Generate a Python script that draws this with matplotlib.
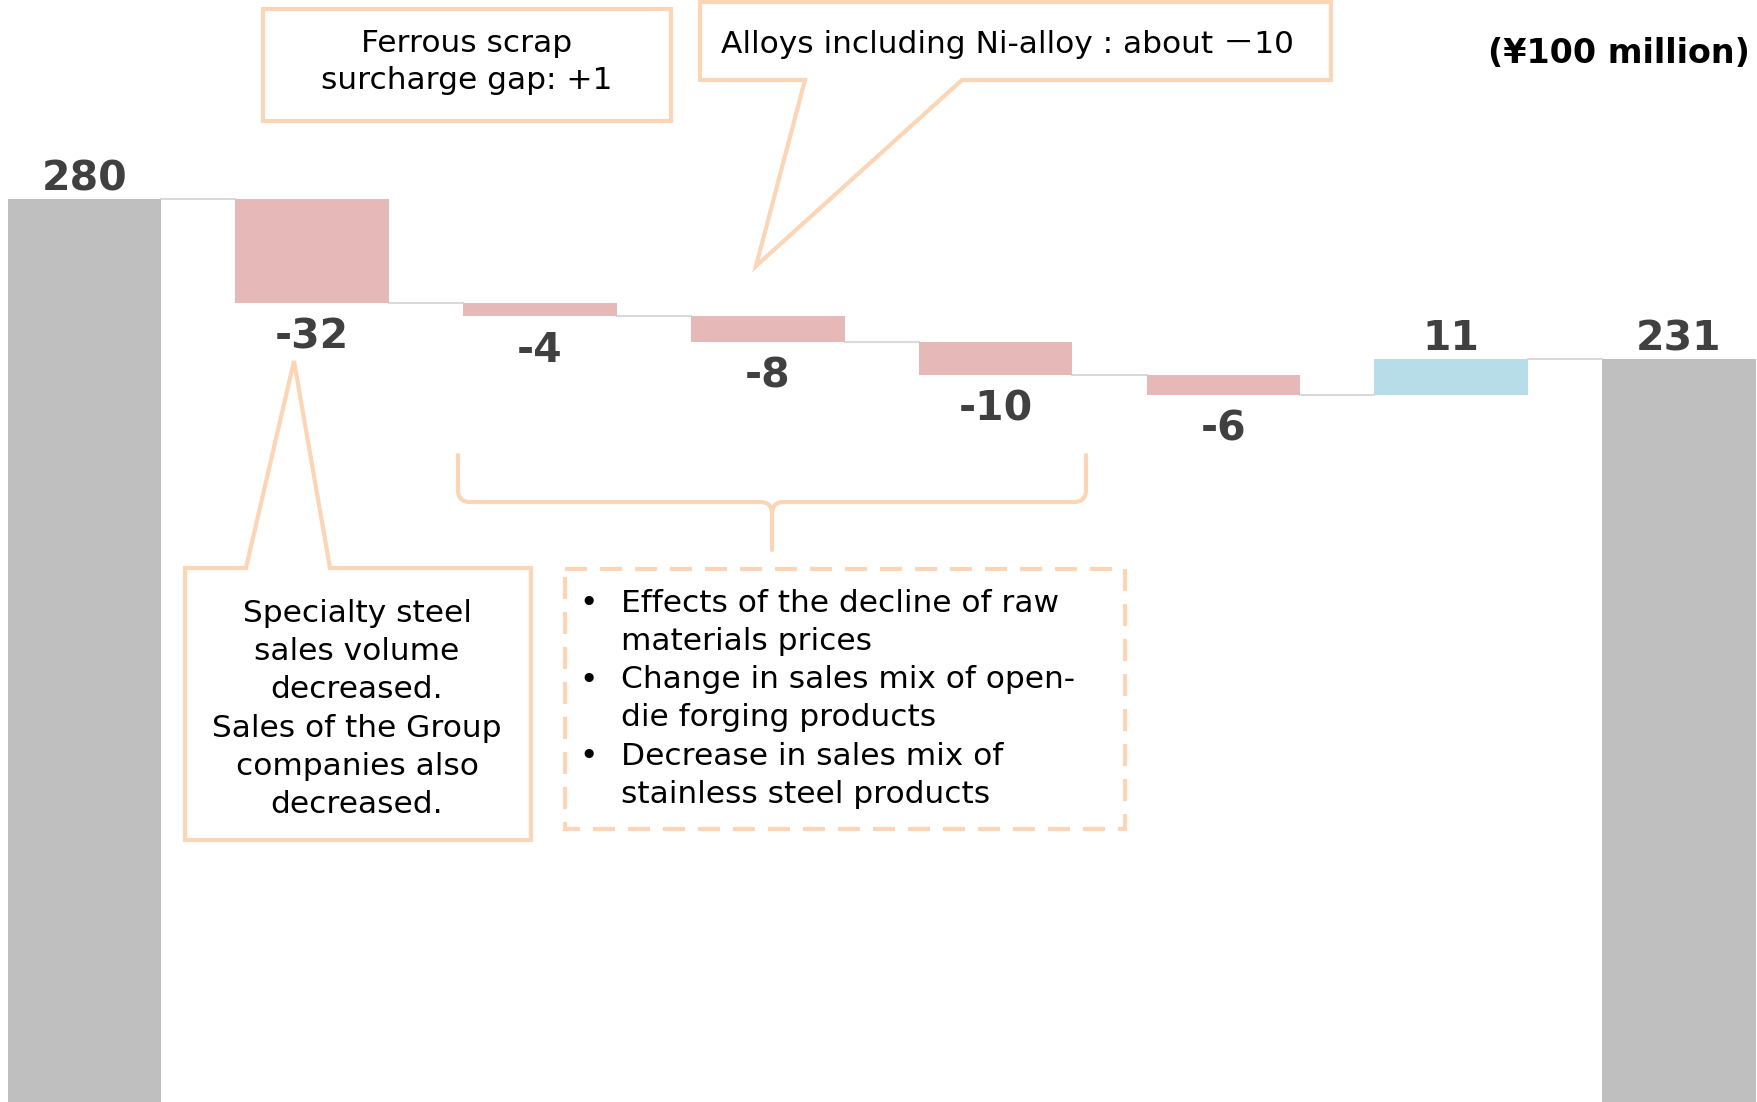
import matplotlib
matplotlib.use("Agg")
import matplotlib.pyplot as plt
from matplotlib.patches import Rectangle, Polygon, PathPatch
from matplotlib.path import Path
from matplotlib.transforms import Affine2D

# waterfall values (¥100 million)
start_value = 280
changes = [-32, -4, -8, -10, -6, 11]
end_value = 231

GREY = "#bfbfbf"
PINK = "#e6b8b7"
BLUE = "#b7dee8"
PEACH = "#fbd5b5"
LABEL = "#404040"

W, H = 1758, 1102
fig = plt.figure(figsize=(W / 100, H / 100), dpi=100)
ax = fig.add_axes([0, 0, 1, 1])
ax.axis("off")

# build the waterfall
bottoms, heights, colors, values = [0], [start_value], [GREY], [start_value]
levels = [start_value]
level = start_value
for c in changes:
    if c < 0:
        bottoms.append(level + c)
        heights.append(-c)
        colors.append(PINK)
    else:
        bottoms.append(level)
        heights.append(c)
        colors.append(BLUE)
    level += c
    levels.append(level)
    values.append(c)
bottoms.append(0)
heights.append(end_value)
colors.append(GREY)
values.append(end_value)

bw = 0.675
x = list(range(len(heights)))
ax.bar(x, heights, bottom=bottoms, width=bw, color=colors, zorder=2)

# connectors
for i, lv in enumerate(levels):
    ax.plot([i + bw / 2, i + 1 - bw / 2], [lv, lv], color="#d9d9d9", lw=1.5, zorder=1)

# value labels
for i, v in enumerate(values):
    if v < 0:
        ax.annotate(str(v), (i, bottoms[i]), xytext=(0, -10.5), textcoords="offset points",
                    ha="center", va="top", fontsize=29.5, fontweight="bold", color=LABEL)
    else:
        ax.annotate(str(v), (i, bottoms[i] + heights[i]), xytext=(0, 6), textcoords="offset points",
                    ha="center", va="baseline", fontsize=29.5, fontweight="bold", color=LABEL)

ax.set_xlim(-0.371, 7.347)
ax.set_ylim(3, 341)

# pixel coordinates (origin top-left) for the annotations
px = Affine2D().scale(1 / W, -1 / H).translate(0, 1) + fig.transFigure


def txt(xp, yp, s, size=22.5, ha="center", **kw):
    fig.text(xp, yp, s, transform=px, ha=ha, va="baseline", fontsize=size,
             color="black", **kw)


# unit
txt(1750, 63, "(¥100 million)", size=24, ha="right", fontweight="bold")

# ferrous scrap box
fig.patches.append(Rectangle((263, 9), 408, 112, transform=px, fill=True,
                             facecolor="white", edgecolor=PEACH, lw=3))
txt(467, 52, "Ferrous scrap")
txt(467, 89, "surcharge gap: +1")

# alloys callout
fig.patches.append(Polygon([(700, 2), (1331, 2), (1331, 80), (962, 80), (756, 266),
                            (805, 80), (700, 80)], closed=True, transform=px,
                           facecolor="white", edgecolor=PEACH, lw=3))
txt(1008, 53, "Alloys including Ni-alloy : about －10",
    family=["DejaVu Sans", "Noto Sans CJK JP"])

# specialty steel callout
fig.patches.append(Polygon([(185, 568), (246, 568), (294, 361), (330, 568), (531, 568),
                            (531, 840), (185, 840)], closed=True, transform=px,
                           facecolor="white", edgecolor=PEACH, lw=3))
for yy, s in zip([622, 660, 698, 737, 775, 813],
                 ["Specialty steel", "sales volume", "decreased.",
                  "Sales of the Group", "companies also", "decreased."]):
    txt(357, yy, s)

# brace
verts = [(458, 455), (458, 490), (458, 502), (470, 502), (760, 502), (772, 502), (772, 514),
         (772, 550), (772, 514), (772, 502), (784, 502), (1074, 502), (1086, 502), (1086, 490),
         (1086, 455)]
codes = [Path.MOVETO, Path.LINETO, Path.CURVE3, Path.CURVE3, Path.LINETO, Path.CURVE3,
         Path.CURVE3, Path.LINETO, Path.MOVETO, Path.CURVE3, Path.CURVE3, Path.LINETO,
         Path.CURVE3, Path.CURVE3, Path.LINETO]
fig.patches.append(PathPatch(Path(verts, codes), transform=px, fill=False,
                             edgecolor=PEACH, lw=3, capstyle="round"))

# dashed box with bullets
fig.patches.append(Rectangle((565, 569), 560, 260, transform=px, fill=False,
                             edgecolor=PEACH, lw=3, ls=(0, (5.3, 3.1))))
bullets = [("Effects of the decline of raw", "materials prices"),
           ("Change in sales mix of open-", "die forging products"),
           ("Decrease in sales mix of", "stainless steel products")]
yy = 612
for a, b in bullets:
    txt(589, yy, "•", ha="center")
    txt(621, yy, a, ha="left")
    txt(621, yy + 38, b, ha="left")
    yy += 76.5

fig.savefig("out.png", dpi=100)
